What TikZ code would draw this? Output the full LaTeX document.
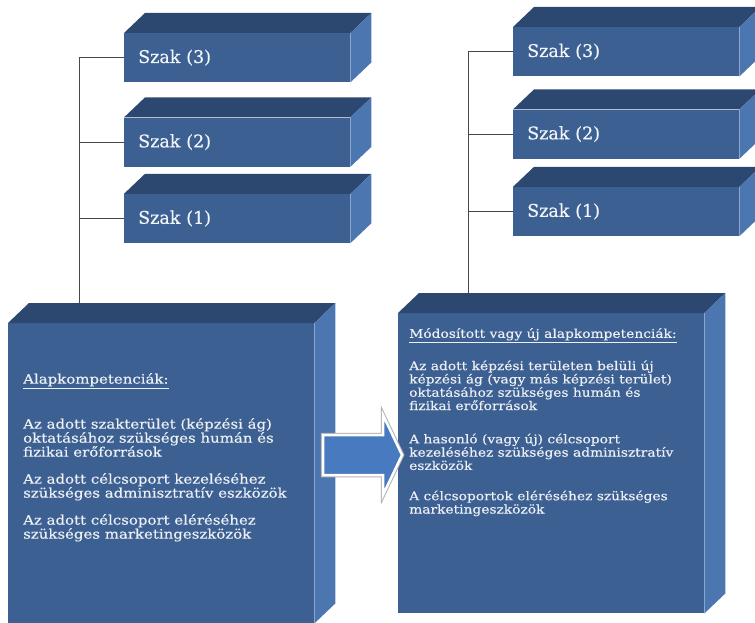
\documentclass[tikz,border=0pt]{standalone}
\usepackage{fontspec}
\setmainfont{DejaVu Serif}
\newfontfamily\boxfont[FakeStretch=1.15, FakeBold=0.4]{DejaVu Serif}
\newfontfamily\szakfont[FakeBold=0.4]{DejaVu Serif}
\usetikzlibrary{positioning}

\definecolor{slabfront}{RGB}{61,96,146}
\definecolor{slabtop}{RGB}{44,72,112}
\definecolor{slabside}{RGB}{76,118,176}
\definecolor{arrowblue}{RGB}{72,122,192}
\definecolor{linegray}{RGB}{70,70,70}

% 立体の上面と側面
\newcommand{\slabfaces}[1]{%
  \fill[slabtop] (#1.north west) -- ++(21,-20) -- ([shift={(21,-20)}]#1.north east) -- (#1.north east) -- cycle;
  \fill[slabside] (#1.north east) -- ++(21,-20) -- ([shift={(21,-20)}]#1.south east) -- (#1.south east) -- cycle;
}

\begin{document}
\begin{tikzpicture}[x=1pt, y=-1pt,
  szak/.style={fill=slabfront, anchor=north west, text width=198pt, minimum height=49pt,
    inner xsep=14pt, inner ysep=0pt, align=left, text=white!94!slabfront,
    font=\szakfont\fontsize{17.5}{20}\selectfont},
  alap/.style={fill=slabfront, anchor=north west, minimum width=306pt, minimum height=300pt, inner sep=0pt},
  alaptext/.style={anchor=north west, inner sep=0pt, align=left, text=white!90!slabfront},
  treeline/.style={draw=linegray, line width=0.9pt},
  arrowbox/.style={fill=arrowblue, draw=white, line width=2.5pt, line join=miter,
    preaction={draw=black!30, line width=4.5pt}}]

  \useasboundingbox (0,0) rectangle (755,623);

  % --- 1. 左側のブロック ---
  \node[alap] (alapL) at (8,323) {};
  \slabfaces{alapL}
  \node[szak] (szak3L) at (124,33) {Szak (3)};
  \slabfaces{szak3L}
  \node[szak, below=35pt of szak3L] (szak2L) {Szak (2)};
  \slabfaces{szak2L}
  \node[szak, below=27pt of szak2L] (szak1L) {Szak (1)};
  \slabfaces{szak1L}

  \node[alaptext, font={\boxfont\fontsize{13}{14}\selectfont\lineskiplimit=-20pt}] (alapLtext) at (23,373)
    {\underline{Alapkompetenciák:}\\[31pt]
     Az adott szakterület (képzési ág)\\
     oktatásához szükséges humán és\\
     fizikai erőforrások\\[13pt]
     Az adott célcsoport kezeléséhez\\
     szükséges adminisztratív eszközök\\[13pt]
     Az adott célcsoport eléréséhez\\
     szükséges marketingeszközök};

  % 左側の線
  \coordinate (trunkL) at (79,303);
  \draw[treeline] (szak3L.west) -| (trunkL);
  \draw[treeline] (szak2L.west) -- (szak2L.west -| trunkL);
  \draw[treeline] (szak1L.west) -- (szak1L.west -| trunkL);

  % --- 2. 右側のブロック ---
  \node[alap] (alapR) at (398,313) {};
  \slabfaces{alapR}
  \node[szak] (szak3R) at (513,27) {Szak (3)};
  \slabfaces{szak3R}
  \node[szak, below=33pt of szak3R] (szak2R) {Szak (2)};
  \slabfaces{szak2R}
  \node[szak, below=28pt of szak2R] (szak1R) {Szak (1)};
  \slabfaces{szak1R}

  \node[alaptext, font={\boxfont\fontsize{12}{13.3}\selectfont\lineskiplimit=-20pt}] (alapRtext) at (409,328)
    {\underline{Módosított vagy új alapkompetenciák:}\\[19pt]
     Az adott képzési területen belüli új\\
     képzési ág (vagy más képzési terület)\\
     oktatásához szükséges humán és\\
     fizikai erőforrások\\[20pt]
     A hasonló (vagy új) célcsoport\\
     kezeléséhez szükséges adminisztratív\\
     eszközök\\[17pt]
     A célcsoportok eléréséhez szükséges\\
     marketingeszközök};

  % 右側の線
  \coordinate (trunkR) at (468,293);
  \draw[treeline] (szak3R.west) -| (trunkR);
  \draw[treeline] (szak2R.west) -- (szak2R.west -| trunkR);
  \draw[treeline] (szak1R.west) -- (szak1R.west -| trunkR);

  % --- 3. 矢印 ---
  \draw[arrowbox] (323,435) -- (383,435) -- (383,415) -- (402,455)
    -- (383,495) -- (383,475) -- (323,475) -- cycle;

\end{tikzpicture}
\end{document}
